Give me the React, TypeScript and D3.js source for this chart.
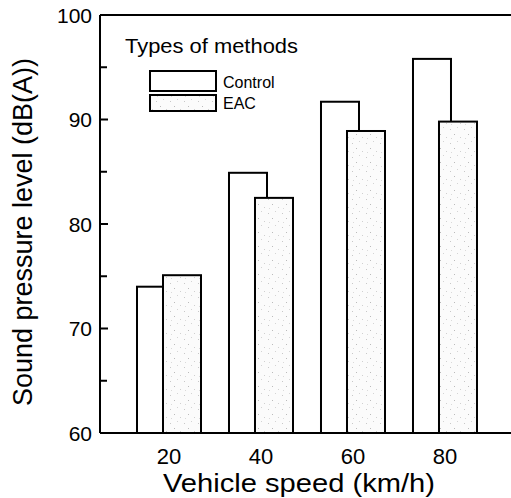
import React from "react";
import * as d3 from "d3";

const speeds = [20, 40, 60, 80];
const controlValues = [74.0, 84.9, 91.7, 95.8];
const eacValues = [75.1, 82.5, 88.9, 89.8];
const yTicks = [60, 70, 80, 90, 100];
const yMinorTicks = [65, 75, 85, 95];
const seriesNames = ["Control", "EAC"];

const W = 511;
const H = 498;
const FONT = "'Liberation Sans', Arial, Helvetica, sans-serif";

export default function App() {
  const left = 100;
  const right = 511;
  const top = 15;
  const bottom = 433;

  const x = d3.scaleLinear().domain([5, 94.35]).range([left, right]);
  const y = d3.scaleLinear().domain([60, 100]).range([bottom, top]);

  const barW = 38;
  const offset = 13;

  // legend boxes
  const legendBoxes = [
    { y: 71, h: 20 },
    { y: 95, h: 16 },
  ];

  return (
    <div style={{ position: "fixed", left: 0, top: 0, width: W, height: H, overflow: "hidden" }}>
      <svg width={W} height={H} style={{ display: "block", background: "#fff" }} fontFamily={FONT}>
        <defs>
          <pattern id="speckle" width="14" height="14" patternUnits="userSpaceOnUse">
            <rect width="14" height="14" fill="#fbfbfb" />
            <rect x="2" y="3" width="1" height="1" fill="#c8c8c8" />
            <rect x="9" y="1" width="1" height="1" fill="#d4d4d4" />
            <rect x="6" y="8" width="1" height="1" fill="#bbbbbb" />
            <rect x="12" y="11" width="1" height="1" fill="#d0d0d0" />
            <rect x="3" y="12" width="1" height="1" fill="#dadada" />
          </pattern>
        </defs>

        {/* bars: control first, EAC drawn over it */}
        {speeds.map((s, i) => (
          <g key={s}>
            <rect
              x={x(s) - offset - barW / 2}
              y={y(controlValues[i])}
              width={barW}
              height={bottom - y(controlValues[i])}
              fill="#fff"
              stroke="#000"
              strokeWidth={2}
            />
            <rect
              x={x(s) + offset - barW / 2}
              y={y(eacValues[i])}
              width={barW}
              height={bottom - y(eacValues[i])}
              fill="url(#speckle)"
              stroke="#000"
              strokeWidth={2}
            />
          </g>
        ))}

        {/* frame */}
        <line x1={left} x2={right} y1={top} y2={top} stroke="#000" strokeWidth={2} />
        <line x1={left} x2={left} y1={top} y2={bottom} stroke="#000" strokeWidth={2} />
        <line x1={left} x2={right} y1={bottom} y2={bottom} stroke="#000" strokeWidth={2} />

        {/* y ticks */}
        {yTicks.map((t) => (
          <g key={t}>
            <line x1={left} x2={left + 8} y1={y(t)} y2={y(t)} stroke="#000" strokeWidth={2} />
            <text x={left - 8} y={y(t)} dy="0.36em" textAnchor="end" fontSize={21}>
              {t}
            </text>
          </g>
        ))}
        {yMinorTicks.map((t) => (
          <line key={t} x1={left} x2={left + 7} y1={y(t)} y2={y(t)} stroke="#000" strokeWidth={2} />
        ))}

        {/* x labels */}
        {speeds.map((s) => (
          <text key={s} x={x(s)} y={464} textAnchor="middle" fontSize={22}>
            {s}
          </text>
        ))}

        <text x={299} y={492} textAnchor="middle" fontSize={26} textLength={272} lengthAdjust="spacingAndGlyphs">
          Vehicle speed (km/h)
        </text>
        <text
          transform={`translate(32, ${(bottom + top) / 2 + 8}) rotate(-90)`}
          textAnchor="middle"
          fontSize={27}
        >
          Sound pressure level (dB(A))
        </text>

        {/* legend */}
        <text x={125} y={53} fontSize={20} textLength={173} lengthAdjust="spacingAndGlyphs">
          Types of methods
        </text>
        {seriesNames.map((name, i) => (
          <g key={name}>
            <rect
              x={150}
              y={legendBoxes[i].y}
              width={66}
              height={legendBoxes[i].h}
              fill={i === 0 ? "#fff" : "url(#speckle)"}
              stroke="#000"
              strokeWidth={2}
            />
            <text x={223} y={88 + i * 21} fontSize={16}>
              {name}
            </text>
          </g>
        ))}
      </svg>
    </div>
  );
}
